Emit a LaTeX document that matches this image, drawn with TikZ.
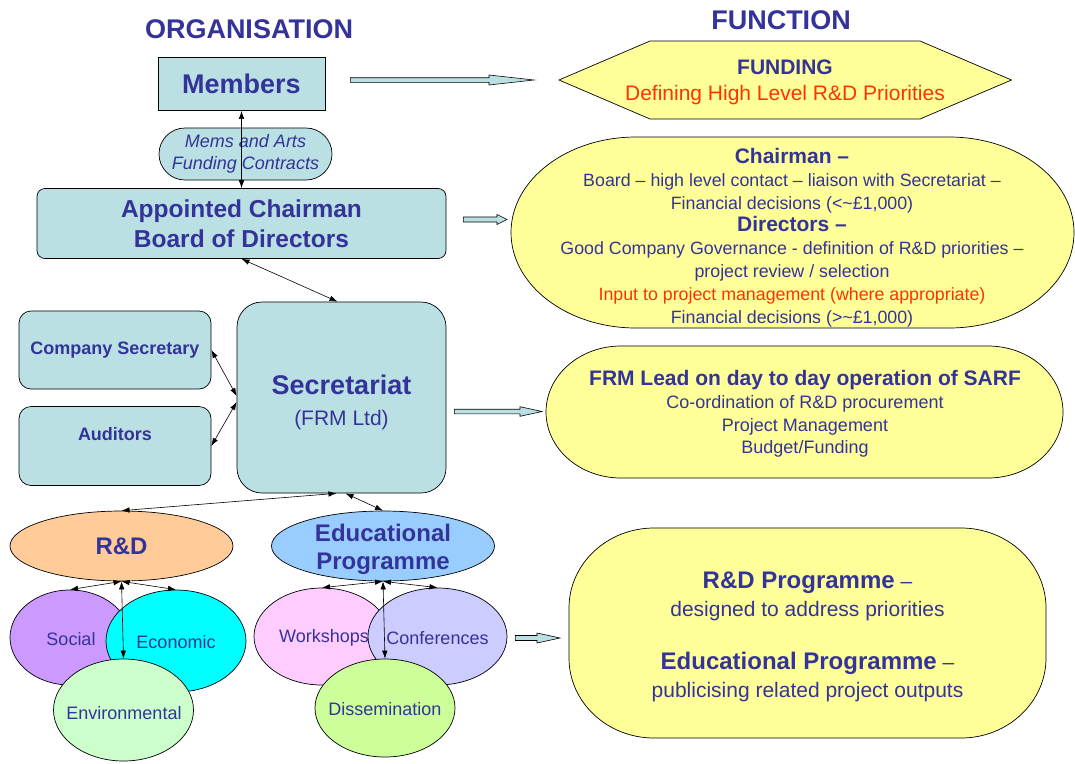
\documentclass[tikz,border=0pt]{standalone}
\usepackage{fontspec}
\setmainfont{Liberation Sans}
\usepackage{tikz}
\usetikzlibrary{arrows.meta, shapes.geometric, calc}
\usepackage{xcolor}
\definecolor{sblue}{RGB}{51,51,153}
\definecolor{sred}{RGB}{255,51,0}
\definecolor{orgteal}{RGB}{187,224,227}
\definecolor{funcyellow}{RGB}{255,255,153}
\definecolor{rdorange}{RGB}{255,204,153}
\definecolor{edblue}{RGB}{153,204,255}
\definecolor{socpurple}{RGB}{204,153,255}
\definecolor{ecocyan}{RGB}{0,255,255}
\definecolor{envgreen}{RGB}{204,255,204}
\definecolor{workpink}{RGB}{255,204,255}
\definecolor{conflilac}{RGB}{204,204,255}
\definecolor{dissgreen}{RGB}{204,255,153}

\newcommand{\fsz}[2]{\fontsize{#1}{#2}\selectfont}

% yellow box with elliptic corners: x0, y0, x1, y1, rx, ry
\newcommand{\funcoval}[6]{%
  \path[ovalfill] ({#1+#5},#2) -- ({#3-#5},#2)
    arc[start angle=-90, end angle=0, x radius=#5, y radius=#6]
    -- (#3,{#4-#6})
    arc[start angle=0, end angle=90, x radius=#5, y radius=#6]
    -- ({#1+#5},#4)
    arc[start angle=90, end angle=180, x radius=#5, y radius=#6]
    -- (#1,{#2+#6})
    arc[start angle=180, end angle=270, x radius=#5, y radius=#6]
    -- cycle;}

% hollow block arrow: from, to, head length, shaft half width, head half width
\newcommand{\blockarrow}[5]{%
  \path[blockarr] let \p1=#1, \p2=#2 in
    (\x1,\y1+#4) -- (\x2-#3,\y1+#4) -- (\x2-#3,\y1+#5) -- (\x2,\y1)
    -- (\x2-#3,\y1-#5) -- (\x2-#3,\y1-#4) -- (\x1,\y1-#4) -- cycle;}

\begin{document}
\begin{tikzpicture}[x=1pt, y=-1pt,
  orgbox/.style={draw, fill=orgteal, line width=0.7pt, text=sblue, align=center, inner sep=2pt},
  progell/.style={ellipse, draw, line width=0.7pt, minimum width=223, minimum height=70},
  subell/.style={ellipse, draw, line width=0.7pt},
  elltext/.style={text=sblue, font=\fsz{18}{21}},
  functext/.style={text=sblue, align=center},
  headtitle/.style={text=sblue, font=\fsz{27}{32}\bfseries},
  dblarr/.style={<->, >={Latex[length=8pt,width=5.5pt]}, line width=0.6pt},
  blockarr/.style={draw, fill=orgteal, line width=0.6pt},
  ovalfill/.style={draw, fill=funcyellow, line width=0.7pt}
]
  \useasboundingbox (0,0) rectangle (1075,763);
  \fill[white] (0,0) rectangle (1075,763);

  % titles
  \node[headtitle] (orgtitle) at (249,29) {ORGANISATION};
  \node[headtitle] (functitle) at (781,20) {FUNCTION};

  % organisation
  \node[orgbox, minimum width=167, minimum height=53, font=\fsz{27}{32}\bfseries] (members) at (241.5,84) {Members};
  \node[orgbox, rounded corners=26, minimum width=173, minimum height=52, font=\fsz{18}{22.5}\itshape] (contracts) at (245.5,154) {Mems and Arts\\Funding Contracts};
  \node[orgbox, rounded corners=8, minimum width=409, minimum height=70, font=\fsz{24.5}{30}\bfseries] (board) at (241.5,223.5) {Appointed Chairman\\Board of Directors};
  \node[orgbox, rounded corners=25, minimum width=209, minimum height=191] (sec) at (341.5,397.5) {};
  \node[functext, font=\fsz{21}{31}] (sectext) at ($(sec)+(0,5)$) {{\fsz{27}{31}\bfseries Secretariat}\\(FRM Ltd)};
  \node[orgbox, rounded corners=12, minimum width=192, minimum height=78, font=\fsz{18}{21}\bfseries] (cosec) at (115,350) {Company Secretary};
  \node[orgbox, rounded corners=12, minimum width=192, minimum height=79, text depth=24pt, font=\fsz{18}{21}\bfseries] (aud) at (115,446) {Auditors};

  % programmes
  \node[progell, fill=rdorange, text=sblue, font=\fsz{24}{28.5}\bfseries] (rd) at (121.5,546) {R\&D};
  \node[progell, fill=edblue] (ed) at (383,546) {};
  \node[functext, font=\fsz{24}{28.5}\bfseries] (edtext) at ($(ed)+(0,3.5)$) {Educational\\Programme};

  \node[subell, fill=socpurple, minimum width=120, minimum height=95] (social) at (70,637.5) {};
  \node[elltext] (socialtext) at (71,639) {Social};
  \node[subell, fill=ecocyan, minimum width=140, minimum height=102] (econ) at (176,641) {};
  \node[elltext] (econtext) at (176,642) {Economic};
  \node[subell, fill=envgreen, minimum width=140, minimum height=102] (env) at (123.5,710) {};
  \node[elltext] (envtext) at (124,713) {Environmental};

  \node[subell, fill=workpink, minimum width=136, minimum height=97] (work) at (322,636.5) {};
  \node[elltext] (worktext) at (324,638) {Workshops};
  \node[subell, fill=conflilac, minimum width=139, minimum height=97] (conf) at (437.5,636.5) {};
  \node[elltext] (conftext) at (437.5,638) {Conferences};
  \node[subell, fill=dissgreen, minimum width=140, minimum height=98] (diss) at (385,708) {};
  \node[elltext] (disstext) at (385,709) {Dissemination};

  % links
  \draw[dblarr] (members.south) -- (board.north);
  \draw[dblarr] (board.south) -- ($(sec.north)+(-4,0)$);
  \draw[dblarr] (cosec.east) -- ($(sec.west)+(0,-1.5)$);
  \draw[dblarr] (aud.east) -- ($(sec.west)+(0,4.5)$);
  \draw[dblarr] ($(sec.south)+(-5,0)$) -- (rd.north);
  \draw[dblarr] ($(sec.south)+(4,0)$) -- (ed.north);
  \foreach \sub in {social, econ, env}
    \draw[dblarr] (rd.south) -- (\sub.north);
  \foreach \sub in {work, conf, diss}
    \draw[dblarr] (ed.south) -- (\sub.north);

  % function
  \coordinate (fundL) at (559,80);
  \path[ovalfill] (fundL) -- (650,41) -- (920,41) -- (1011.5,80) -- (920,119) -- (650,119) -- cycle;
  \node[functext, font=\fsz{21}{26}] (funding) at (785,82.5) {{\bfseries FUNDING}\\{\color{sred}Defining High Level R\&D Priorities}};

  \coordinate (chairL) at (511,232.5);
  \funcoval{511}{137}{1074}{328}{125}{95.5}
  \node[functext, font=\fsz{17.8}{22.8}] (chair) at (792,237.5) {{\fsz{21}{22.8}\bfseries Chairman --}\\
    Board -- high level contact -- liaison with Secretariat --\\
    Financial decisions (<\textasciitilde{}£1,000)\\
    {\fsz{21}{22.8}\bfseries Directors --}\\
    Good Company Governance - definition of R\&D priorities --\\
    project review / selection\\
    {\color{sred}Input to project management (where appropriate)}\\
    Financial decisions (>\textasciitilde{}£1,000)};

  \coordinate (frmL) at (546,412);
  \funcoval{546}{346}{1063}{478}{75}{66}
  \node[functext, font=\fsz{18}{22.8}] (frm) at (805,414) {{\fsz{21}{22.8}\bfseries FRM Lead on day to day operation of SARF}\\
    Co-ordination of R\&D procurement\\
    Project Management\\
    Budget/Funding};

  \coordinate (progL) at (569,633);
  \funcoval{569}{528}{1046}{738}{85}{80}
  \node[functext, font=\fsz{21}{28}] (prog) at (807.5,637) {{\fsz{24}{28}\bfseries R\&D Programme} --\\
    designed to address priorities\\[25pt]
    {\fsz{24}{28}\bfseries Educational Programme} --\\
    publicising related project outputs};

  % block arrows
  \blockarrow{($(members.east)+(25,-4)$)}{($(fundL)+(-25,0)$)}{45pt}{2.3pt}{5pt}
  \blockarrow{($(board.east)+(17,-4)$)}{($(chairL)+(-4,0)$)}{10pt}{2.5pt}{5pt}
  \blockarrow{($(sec.east)+(8,14)$)}{($(frmL)+(-4,0)$)}{22pt}{2.3pt}{4.8pt}
  \blockarrow{($(conf.east)+(8,1.5)$)}{($(progL)+(-9,0)$)}{23pt}{2.5pt}{5pt}
\end{tikzpicture}
\end{document}
